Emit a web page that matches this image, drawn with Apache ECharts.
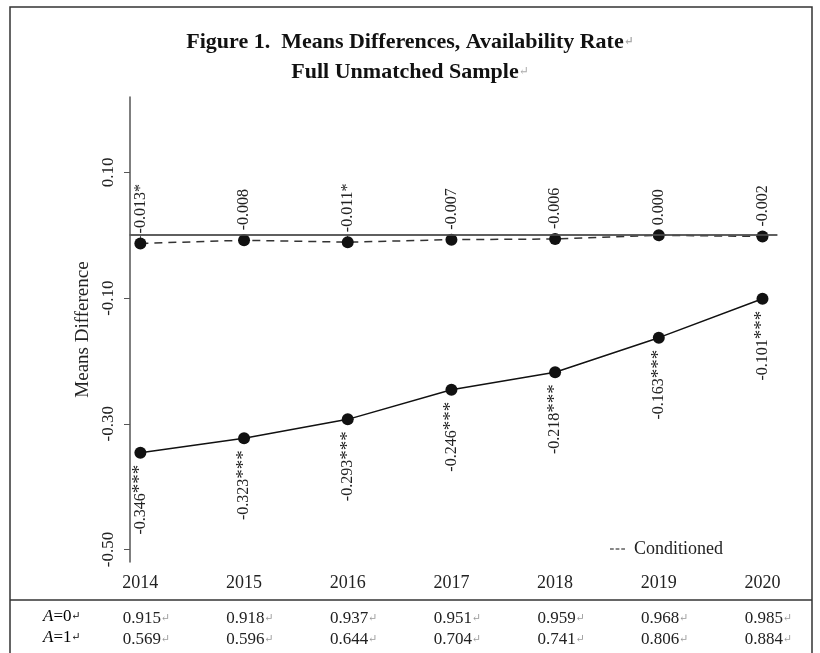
<!DOCTYPE html>
<html>
<head>
<meta charset="utf-8">
<script src="https://cdn.jsdelivr.net/npm/echarts@6/dist/echarts.min.js"></script>
<style>
  html, body { margin: 0; padding: 0; background: #fff; }
  #chart { width: 820px; height: 653px; }
</style>
</head>
<body>
<div id="chart"></div>
<script>
const chart = echarts.init(document.getElementById('chart'));

// years on the x axis
const years = [2014, 2015, 2016, 2017, 2018, 2019, 2020];
// means difference, unconditioned (solid) and conditioned (dashed)
const uncond = [-0.346, -0.323, -0.293, -0.246, -0.218, -0.163, -0.101];
const uncondStars = ['***', '***', '***', '***', '***', '***', '***'];
const cond = [-0.013, -0.008, -0.011, -0.007, -0.006, 0.000, -0.002];
const condStars = ['*', '', '*', '', '', '', ''];
// table under the chart
const rowA0 = ['0.915', '0.918', '0.937', '0.951', '0.959', '0.968', '0.985'];
const rowA1 = ['0.569', '0.596', '0.644', '0.704', '0.741', '0.806', '0.884'];
// y tick labels
const yTicks = [0.10, -0.10, -0.30, -0.50];

const serif = '"Liberation Serif", "DejaVu Serif", serif';

function fmtVal(v) {
    return (v === 0 ? 0 : v).toFixed(3);
}

const uncondData = years.map((y, i) => [y, uncond[i]]);
const condData = years.map((y, i) => [y, cond[i]]);

function tableAxis(row, offset) {
    return {
        type: 'value',
        position: 'bottom',
        offset: offset,
        min: 2013.9,
        max: 2020.14,
        axisLine: { show: false },
        axisTick: { show: false },
        splitLine: { show: false },
        axisLabel: {
            customValues: years,
            margin: 8,
            padding: [0, 0, 0, 12],
            formatter: function (v) {
                var i = years.indexOf(Math.round(v));
                return i < 0 ? '' : '{v|' + row[i] + '}{r|↵}';
            },
            rich: {
                v: { fontFamily: serif, fontSize: 17, color: '#222' },
                r: { fontFamily: serif, fontSize: 11, color: '#999' }
            }
        }
    };
}

const titleRich = {
    t: { fontFamily: serif, fontSize: 22, fontWeight: 'bold', color: '#111' },
    r: { fontFamily: serif, fontSize: 12, color: '#aaa' }
};

const option = {
    animation: false,
    backgroundColor: '#fff',
    title: {
        left: 'center',
        top: 26,
        itemGap: 8,
        text: '{t|Figure 1.  Means Differences, Availability Rate}{r|↵}',
        subtext: '{t|Full Unmatched Sample}{r|↵}',
        textStyle: { rich: titleRich },
        subtextStyle: { rich: titleRich }
    },
    legend: {
        data: ['Conditioned'],
        right: 92,
        top: 535,
        icon: 'path://M0,0H4V1H0Z M6,0H10V1H6Z M12,0H16V1H12Z',
        itemWidth: 15,
        itemHeight: 1.5,
        textStyle: { fontFamily: serif, fontSize: 18, color: '#222', padding: [0, 0, 0, 4] }
    },
    grid: {
        left: 130,
        right: 43,
        top: 97,
        bottom: 91,
        containLabel: false
    },
    xAxis: [{
        type: 'value',
        min: 2013.9,
        max: 2020.14,
        axisLine: { show: true, lineStyle: { color: '#555', width: 1.5 } },
        axisTick: { show: true, customValues: years, length: 6, lineStyle: { color: '#555' } },
        splitLine: { show: false },
        axisLabel: {
            customValues: years,
            margin: 12,
            fontFamily: serif,
            fontSize: 18,
            color: '#222',
            formatter: function (v) { return String(Math.round(v)); }
        }
    }, tableAxis(rowA0, 40), tableAxis(rowA1, 61)],
    yAxis: {
        type: 'value',
        min: -0.52,
        max: 0.22,
        name: 'Means Difference',
        nameLocation: 'middle',
        nameGap: 34,
        nameTextStyle: { fontFamily: serif, fontSize: 19, color: '#222' },
        axisLine: { show: true, lineStyle: { color: '#555', width: 1.5 } },
        axisTick: { show: true, customValues: yTicks, length: 6, lineStyle: { color: '#555' } },
        splitLine: { show: false },
        axisLabel: {
            customValues: yTicks,
            rotate: 90,
            margin: 13,
            fontFamily: serif,
            fontSize: 17,
            color: '#222',
            formatter: function (v) { return v.toFixed(2); }
        }
    },
    series: [{
        name: 'Unconditioned',
        type: 'line',
        data: uncondData,
        symbol: 'circle',
        symbolSize: 12,
        itemStyle: { color: '#111' },
        lineStyle: { color: '#111', width: 1.5 },
        label: {
            show: true,
            position: 'bottom',
            distance: 6,
            rotate: 90,
            align: 'right',
            verticalAlign: 'middle',
            fontFamily: serif,
            fontSize: 16,
            color: '#222',
            formatter: function (p) {
                return fmtVal(uncond[p.dataIndex]) + '{s|' + uncondStars[p.dataIndex] + '}';
            },
            rich: { s: { fontFamily: serif, fontSize: 19, color: '#222' } }
        }
    }, {
        name: 'Conditioned',
        type: 'line',
        data: condData,
        symbol: 'circle',
        symbolSize: 12,
        itemStyle: { color: '#111' },
        lineStyle: { color: '#333', width: 1.5, type: [8, 6] },
        label: {
            show: true,
            position: 'top',
            distance: 4,
            rotate: 90,
            align: 'left',
            verticalAlign: 'middle',
            fontFamily: serif,
            fontSize: 16,
            color: '#222',
            formatter: function (p) {
                return fmtVal(cond[p.dataIndex]) + condStars[p.dataIndex];
            }
        },
        markLine: {
            silent: true,
            symbol: 'none',
            label: { show: false },
            lineStyle: { color: '#555', width: 1.5, type: 'solid' },
            data: [{ yAxis: 0 }]
        },
        z: 3
    }],
    graphic: [{
        type: 'rect',
        shape: { x: 10, y: 7, width: 802, height: 660 },
        style: { fill: 'none', stroke: '#333', lineWidth: 1.5 },
        silent: true
    }, {
        type: 'line',
        shape: { x1: 10, y1: 600, x2: 812, y2: 600 },
        style: { stroke: '#333', lineWidth: 1.5 },
        silent: true
    }, {
        type: 'text',
        left: 43,
        top: 608,
        style: {
            text: '{a|A}{v|=0}{r|↵}\n{a|A}{v|=1}{r|↵}',
            rich: {
                a: { fontFamily: serif, fontSize: 17, fontStyle: 'italic', color: '#222', lineHeight: 21 },
                v: { fontFamily: serif, fontSize: 17, color: '#222', lineHeight: 21 },
                r: { fontFamily: serif, fontSize: 11, color: '#999', lineHeight: 21 }
            }
        }
    }]
};

chart.setOption(option);
</script>
</body>
</html>
